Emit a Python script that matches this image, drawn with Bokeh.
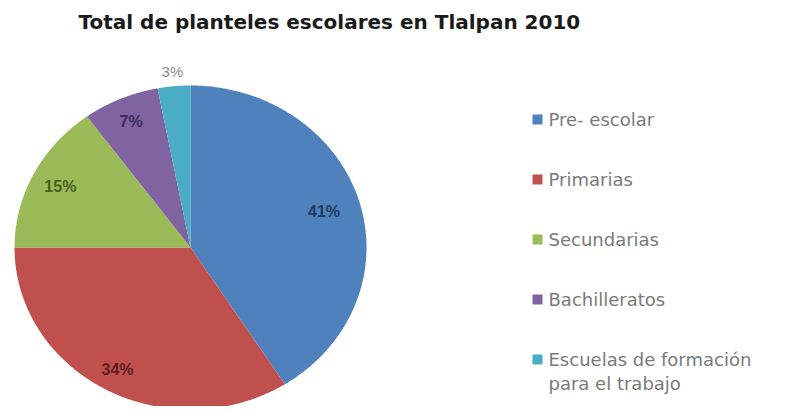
import numpy as np
from bokeh.plotting import figure
from bokeh.models import Range1d
from bokeh.core.properties import value
from bokeh.embed import file_html
from bokeh.resources import INLINE

title = "Total de planteles escolares en Tlalpan 2010"
categories = ["Pre- escolar", "Primarias", "Secundarias", "Bachilleratos",
              "Escuelas de formación\npara el trabajo"]
percent = [41, 34, 15, 7, 3]
colors = ["#4F81BD", "#C0504D", "#9BBB59", "#8064A2", "#4BACC6"]
label_colors = ["#1F3A60", "#5E2120", "#4A5E24", "#3C2D56", "#8a8a8a"]

# layout (image pixel coordinates)
CX, CY, RX, RY = 190, 247, 176, 162
label_r = [0.79, 0.86, 0.83, 0.85, 1.09]
LEG_X, LEG_Y0, LEG_DY = 537, 119, 60

p = figure(width=774, height=406, output_backend="svg", toolbar_location=None,
           x_range=Range1d(0, 774), y_range=Range1d(406, 0), min_border=0)
p.axis.visible = False
p.grid.visible = False
p.outline_line_color = None
p.background_fill_color = "white"
p.border_fill_color = "white"

fr = np.array(percent, dtype=float) / sum(percent)
ends = np.cumsum(fr)
starts = ends - fr
xs, ys, lx, ly = [], [], [], []
for s, e, rr in zip(starts, ends, label_r):
    a0 = np.pi / 2 - 2 * np.pi * s
    a1 = np.pi / 2 - 2 * np.pi * e
    t = np.linspace(a0, a1, 200)
    xs.append([CX] + list(CX + RX * np.cos(t)) + [CX])
    ys.append([CY] + list(CY - RY * np.sin(t)) + [CY])
    m = (a0 + a1) / 2
    lx.append(CX + rr * RX * np.cos(m))
    ly.append(CY - rr * RY * np.sin(m))

p.patches(xs, ys, fill_color=colors, line_color=None)
p.text(lx[:4], ly[:4], text=[f"{v}%" for v in percent[:4]], text_color=label_colors[:4],
       text_font=value("Liberation Sans"), text_font_size="16px", text_font_style="bold",
       text_align="center", text_baseline="middle")
p.text(lx[4:], ly[4:], text=[f"{v}%" for v in percent[4:]], text_color=label_colors[4:],
       text_font=value("Liberation Sans"), text_font_size="15px",
       text_align="center", text_baseline="middle")

p.text([78], [21], text=[title], text_font=value("DejaVu Sans"),
       text_font_style="bold", text_font_size="20px", text_color="#1a1a1a",
       text_align="left", text_baseline="middle")

n = len(categories)
legx = [LEG_X] * n
legy = [LEG_Y0 + i * LEG_DY for i in range(n)]
p.scatter(legx, legy, marker="square", size=10, fill_color=colors, line_color=None)
p.text([LEG_X + 11] * n, [y - 11 for y in legy], text=categories,
       text_font=value("DejaVu Sans"), text_font_size="18px", text_color="#7a7a7a",
       text_align="left", text_baseline="top", text_line_height=1.15)

open("out.html", "w").write(file_html(p, INLINE))
